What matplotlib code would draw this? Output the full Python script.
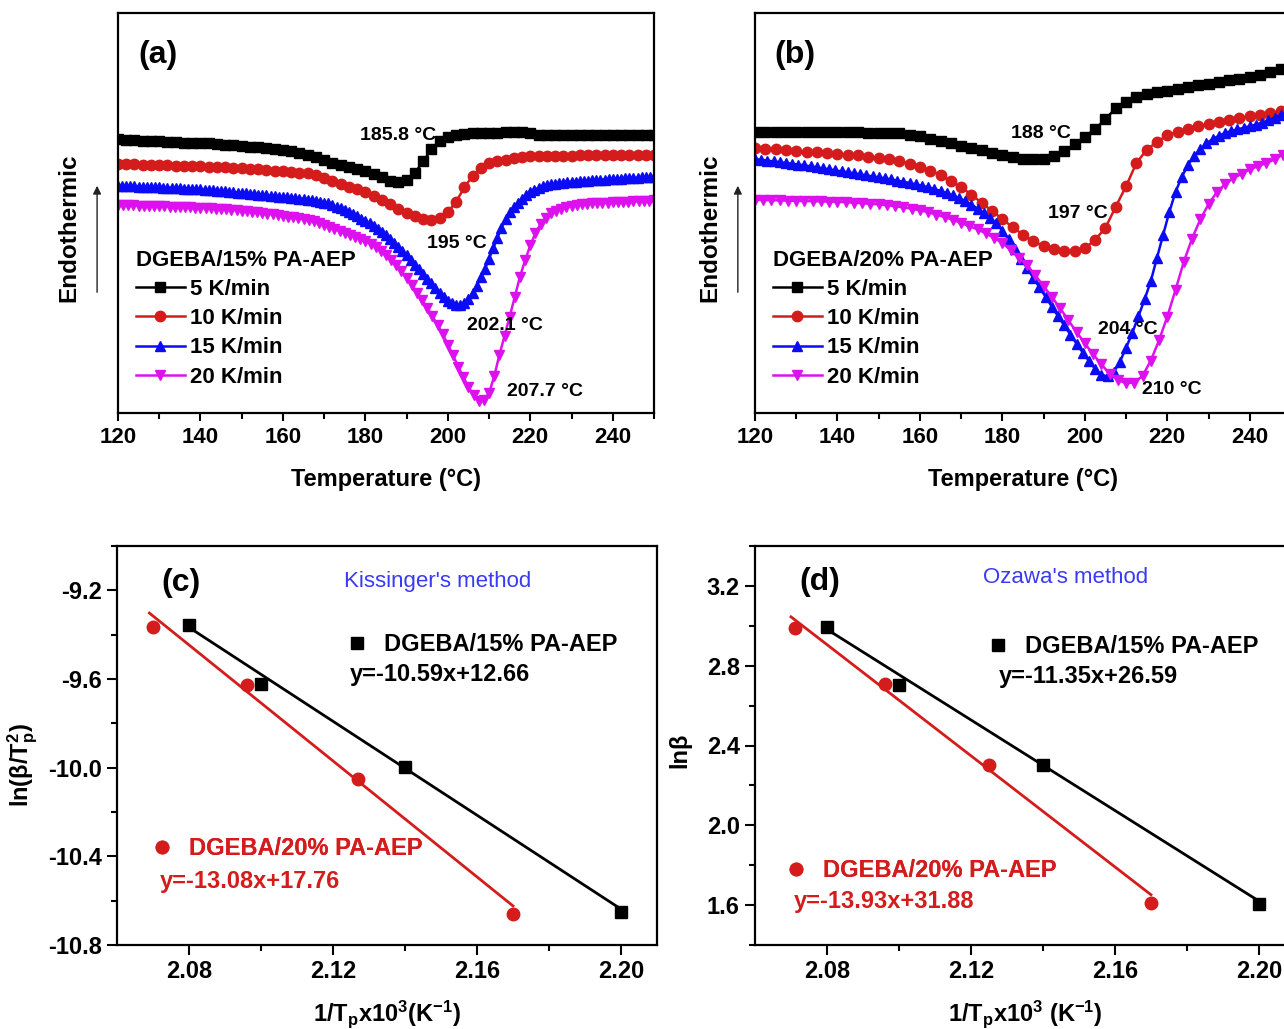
import numpy as np
import matplotlib
matplotlib.use("Agg")
import matplotlib.pyplot as plt
from matplotlib.ticker import MultipleLocator, FormatStrFormatter

plt.rcParams['font.family'] = ['Liberation Sans', 'DejaVu Sans']
plt.rcParams['font.weight'] = 'bold'
plt.rcParams['axes.labelweight'] = 'bold'
plt.rcParams['mathtext.fontset'] = 'custom'
plt.rcParams['mathtext.rm'] = 'Liberation Sans:bold'
plt.rcParams['mathtext.it'] = 'Liberation Sans:bold'
plt.rcParams['mathtext.bf'] = 'Liberation Sans:bold'
plt.rcParams['mathtext.default'] = 'rm'
plt.rcParams['axes.linewidth'] = 1.6

BLACK = '#000000'
RED = '#d41c1c'
BLUE = '#0b0bf5'
MAGENTA = '#dd11ee'
METHOD_BLUE = '#3a3af5'

# ---------------- DSC curves, panel (a): DGEBA/15% PA-AEP (heat flow, a.u.)
T_a_5 = np.arange(120, 251, 2)
dsc_a_5 = [68.4, 68.3, 68.2, 68.1, 68.0, 67.9, 67.8, 67.7, 67.6, 67.5,
           67.45, 67.4, 67.25, 67.1, 66.95, 66.8, 66.6, 66.4, 66.2, 66.0,
           65.8, 65.4, 65.0, 64.6, 64.0, 63.3, 62.6, 62.1, 61.6, 61.1,
           60.6, 59.8, 58.9, 57.9, 57.8, 58.3, 60.0, 62.9, 65.9, 67.9,
           69.1, 69.5, 69.75, 69.9, 70.0, 70.05, 70.1, 70.2, 70.3, 70.2,
           69.9, 69.6, 69.5, 69.5, 69.5, 69.5, 69.5, 69.5, 69.5, 69.5,
           69.5, 69.5, 69.5, 69.5, 69.5, 69.5]
T_a_10 = np.arange(120, 251, 2)
dsc_a_10 = [62.25, 62.2, 62.15, 62.1, 62.05, 62.0, 61.9, 61.85, 61.8, 61.7,
            61.65, 61.6, 61.5, 61.4, 61.3, 61.2, 61.05, 60.9, 60.75, 60.6,
            60.45, 60.3, 60.1, 59.95, 59.5, 58.7, 58.0, 57.3, 56.6, 55.9,
            55.2, 54.3, 53.3, 52.2, 51.1, 50.1, 49.2, 48.5, 48.3, 48.8,
            50.2, 52.8, 56.4, 59.3, 61.2, 62.4, 62.95, 63.3, 63.65, 63.95,
            64.2, 64.25, 64.3, 64.3, 64.35, 64.35, 64.4, 64.4, 64.4, 64.45,
            64.45, 64.45, 64.5, 64.5, 64.5, 64.5]
T_a_15 = np.arange(120, 251, 1)
dsc_a_15 = [56.8, 56.76, 56.72, 56.68, 56.64, 56.6, 56.56, 56.52, 56.48, 56.44,
            56.4, 56.35, 56.3, 56.25, 56.2, 56.15, 56.1, 56.05, 56.0, 55.95,
            55.9, 55.85, 55.8, 55.7, 55.6, 55.5, 55.4, 55.3, 55.2, 55.1,
            55.0, 54.9, 54.8, 54.7, 54.6, 54.5, 54.4, 54.3, 54.2, 54.1,
            54.0, 53.9, 53.8, 53.7, 53.6, 53.5, 53.35, 53.2, 53.0, 52.8,
            52.6, 52.4, 52.0, 51.6, 51.2, 50.8, 50.3, 49.8, 49.2, 48.6,
            48.0, 47.4, 46.8, 46.1, 45.3, 44.4, 43.5, 42.5, 41.5, 40.5,
            39.4, 38.3, 37.1, 36.0, 34.8, 33.6, 32.4, 31.2, 30.0, 29.0,
            28.1, 27.4, 27.0, 27.1, 27.6, 28.6, 29.9, 31.8, 33.9, 36.0,
            38.6, 41.2, 43.8, 46.3, 48.5, 50.2, 51.5, 52.6, 53.6, 54.5,
            55.2, 55.8, 56.3, 56.7, 56.95, 57.15, 57.3, 57.45, 57.6, 57.7,
            57.8, 57.87, 57.94, 58.0, 58.07, 58.14, 58.21, 58.28, 58.35, 58.42,
            58.49, 58.55, 58.6, 58.66, 58.72, 58.78, 58.84, 58.9, 58.96, 59.02,
            59.08]
T_a_20 = np.arange(120, 250.01, 1.25)
dsc_a_20 = [52.0, 51.97, 51.93, 51.9, 51.86, 51.82, 51.78, 51.74, 51.7, 51.65,
            51.6, 51.55, 51.5, 51.45, 51.4, 51.35, 51.3, 51.25, 51.2, 51.1,
            51.0, 50.9, 50.8, 50.7, 50.6, 50.45, 50.3, 50.15, 50.0, 49.85,
            49.7, 49.5, 49.3, 49.1, 48.9, 48.7, 48.5, 48.3, 48.0, 47.6,
            47.1, 46.6, 46.1, 45.6, 45.1, 44.6, 44.1, 43.6, 43.0, 42.3,
            41.5, 40.6, 39.5, 38.3, 37.0, 35.4, 33.8, 32.0, 30.1, 28.2,
            26.3, 24.2, 22.0, 19.7, 17.1, 14.4, 11.6, 9.0, 6.5, 4.4,
            3.0, 3.2, 5.0, 9.2, 14.5, 19.3, 24.1, 29.1, 34.1, 38.2,
            41.9, 45.0, 47.3, 48.8, 49.9, 50.6, 51.1, 51.5, 51.8, 52.0,
            52.2, 52.35, 52.45, 52.5, 52.55, 52.6, 52.7, 52.75, 52.8, 52.85,
            52.9, 52.95, 53.0, 53.1, 53.2]

# ---------------- DSC curves, panel (b): DGEBA/20% PA-AEP
T_b_5 = np.arange(120, 250.01, 2.5)
dsc_b_5 = [70.3, 70.3, 70.3, 70.3, 70.3, 70.3, 70.3, 70.3, 70.25, 70.2,
           70.15, 70.1, 70.05, 70.0, 69.9, 69.6, 69.2, 68.6, 68.0, 67.4,
           66.8, 66.25, 65.7, 65.1, 64.5, 63.9, 63.55, 63.45, 63.5, 64.2,
           65.5, 67.2, 69.1, 71.0, 73.5, 76.2, 77.8, 79.0, 79.7, 80.2,
           80.6, 81.1, 81.5, 81.9, 82.3, 82.8, 83.2, 83.6, 84.0, 84.6,
           85.3, 86.1, 86.8]
T_b_10 = np.arange(120, 250.01, 2.5)
dsc_b_10 = [66.25, 66.1, 65.9, 65.7, 65.5, 65.35, 65.2, 65.0, 64.8, 64.6,
            64.4, 64.1, 63.85, 63.5, 63.0, 62.3, 61.5, 60.6, 59.5, 58.0,
            56.4, 54.6, 52.5, 50.5, 48.5, 46.4, 44.6, 42.9, 41.7, 41.0,
            40.6, 40.4, 41.2, 43.3, 46.3, 51.6, 56.7, 62.5, 65.8, 67.8,
            69.4, 70.3, 70.9, 71.7, 72.2, 72.7, 73.2, 73.7, 74.2, 74.6,
            75.0, 75.4, 75.8]
T_b_15 = np.arange(120, 249.01, 1.5)
dsc_b_15 = [63.5, 63.3, 63.1, 62.9, 62.7, 62.5, 62.3, 62.1, 61.9, 61.65,
            61.4, 61.15, 60.9, 60.65, 60.4, 60.15, 59.9, 59.65, 59.4, 59.15,
            58.9, 58.65, 58.4, 58.1, 57.8, 57.5, 57.15, 56.8, 56.4, 56.0,
            55.5, 55.0, 54.4, 53.7, 53.0, 52.1, 51.1, 50.0, 48.8, 47.4,
            45.6, 43.4, 41.0, 38.6, 36.2, 33.8, 31.4, 29.0, 26.6, 24.2,
            21.9, 19.6, 17.3, 15.1, 13.0, 11.0, 9.5, 9.2, 10.2, 12.8,
            16.3, 20.0, 24.2, 28.4, 33.0, 38.8, 44.6, 50.3, 55.3, 59.0,
            62.0, 64.2, 66.0, 67.4, 68.5, 69.3, 70.0, 70.5, 70.9, 71.3,
            71.7, 72.1, 72.6, 73.2, 73.8, 74.5, 75.2]
T_b_20 = np.arange(120, 251, 2)
dsc_b_20 = [53.3, 53.25, 53.2, 53.15, 53.1, 53.05, 53.0, 52.95, 52.9, 52.85,
            52.8, 52.7, 52.6, 52.45, 52.3, 52.15, 51.95, 51.7, 51.4, 51.05,
            50.7, 50.2, 49.6, 49.0, 48.3, 47.5, 46.7, 45.9, 44.9, 43.8,
            42.5, 40.7, 38.8, 37.0, 34.4, 31.7, 29.0, 26.2, 23.2, 20.2,
            17.4, 14.7, 12.2, 9.8, 8.2, 7.5, 7.6, 9.3, 13.1, 18.2,
            24.1, 30.8, 37.8, 43.6, 48.4, 52.2, 55.2, 57.2, 58.7, 59.8,
            60.9, 61.7, 62.5, 63.4, 64.6, 65.4]

rate_labels = ['5 K/min', '10 K/min', '15 K/min', '20 K/min']

# peak labels (text, T, y)
peaks_a = [('185.8 °C', 187.9, 69.5), ('195 °C', 202.2, 42.5),
           ('202.1 °C', 213.8, 22.0), ('207.7 °C', 223.5, 5.3)]
peaks_b = [('188 °C', 189.4, 70.0), ('197 °C', 198.4, 50.0),
           ('204 °C', 210.3, 20.8), ('210 °C', 221.0, 5.8)]

# ---------------- kinetic plots
invT_15 = [2.08, 2.10, 2.14, 2.20]
invT_20_c = [2.070, 2.096, 2.127, 2.170]
invT_20_d = [2.071, 2.096, 2.125, 2.170]
kis_15 = [-9.358, -9.621, -9.997, -10.653]
kis_20 = [-9.365, -9.626, -10.051, -10.660]
oza_15 = [2.993, 2.703, 2.303, 1.607]
oza_20 = [2.990, 2.708, 2.303, 1.609]
kis_fit_15 = (-10.59, 12.66)
kis_fit_20 = (-13.08, 17.76)
oza_fit_15 = (-11.35, 26.59)
oza_fit_20 = (-13.93, 31.88)


def dsc_panel(ax, curves, title, peaks, tag, ylab_x, arrow_x):
    styles = [(BLACK, 's', 6.5), (RED, 'o', 7.5), (BLUE, '^', 6.5), (MAGENTA, 'v', 7.0)]
    for (T, v), (c, m, ms), lab in zip(curves, styles, rate_labels):
        ax.plot(T, v, color=c, marker=m, ms=ms, mec=c, lw=1.8, label=lab)
    ax.set_xlim(120, 250)
    ax.set_ylim(0, 100)
    ax.set_xticks(range(120, 241, 20))
    ax.xaxis.set_minor_locator(MultipleLocator(10))
    ax.set_yticks([])
    ax.tick_params(axis='x', which='major', direction='out', length=6, width=1.5,
                   labelsize=16, pad=4)
    ax.tick_params(axis='x', which='minor', direction='out', length=4, width=1.5)
    ax.set_xlabel('Temperature (°C)', fontsize=17)
    ax.xaxis.set_label_coords(0.5, -0.1375)
    ax.set_ylabel('Endothermic', fontsize=17.5)
    ax.yaxis.set_label_coords(ylab_x, 0.4625)
    ax.annotate('', xy=(arrow_x, 0.575), xytext=(arrow_x, 0.295), xycoords='axes fraction',
                arrowprops=dict(arrowstyle='-|>', color='#222222', lw=1.0, mutation_scale=12),
                annotation_clip=False)
    for txt, x, y in peaks:
        ax.text(x, y, txt, ha='center', va='center', fontsize=14)
    ax.text(0.074, 0.895, tag, transform=ax.transAxes, ha='center', va='center', fontsize=23)
    ax.legend(loc='upper left', bbox_to_anchor=(0.033, 0.408), title=title, alignment='left',
              frameon=False, fontsize=16, title_fontproperties={'weight': 'bold', 'size': 16},
              handlelength=2.2, handletextpad=0.25, labelspacing=0.37, borderpad=0,
              borderaxespad=0, numpoints=1)


def kinetic_panel(ax, x15, y15, fit15, x20, y20, fit20, ylim, yticks, ylabel, ylab_x, ylab_y,
                  xlabel, method, method_pos, tag, tag_pos, leg15, eq15, leg20, eq20):
    h15, = ax.plot(x15, y15, 's', color=BLACK, ms=8.5, zorder=3)
    h20, = ax.plot(x20, y20, 'o', color=RED, ms=9, zorder=3)
    xs = np.array([min(x15), max(x15)])
    ax.plot(xs, fit15[0] * xs + fit15[1], color=BLACK, lw=2.0, zorder=2)
    xs = np.array([min(x20) - 0.001, max(x20)])
    ax.plot(xs, fit20[0] * xs + fit20[1], color=RED, lw=2.0, zorder=2)

    ax.set_xlim(2.06, 2.21)
    ax.set_ylim(*ylim)
    ax.set_xticks([2.08, 2.12, 2.16, 2.20])
    ax.set_xticks([2.10, 2.14, 2.18], minor=True)
    ax.set_yticks(yticks)
    ax.yaxis.set_minor_locator(MultipleLocator(0.2))
    ax.xaxis.set_major_formatter(FormatStrFormatter('%.2f'))
    ax.yaxis.set_major_formatter(FormatStrFormatter('%.1f'))
    ax.tick_params(which='major', direction='out', length=7, width=1.5, labelsize=17, pad=4)
    ax.tick_params(which='minor', direction='out', length=4, width=1.5)

    ax.set_xlabel(xlabel, fontsize=17)
    ax.xaxis.set_label_coords(0.5, -0.133)
    ax.set_ylabel(ylabel, fontsize=17)
    ax.yaxis.set_label_coords(ylab_x, ylab_y)

    ax.text(*method_pos, method, transform=ax.transAxes, ha='center', va='center',
            fontsize=16, fontweight='normal', color=METHOD_BLUE)
    ax.text(*tag_pos, tag, transform=ax.transAxes, ha='center', va='center', fontsize=23)

    l1 = ax.legend([h15], ['DGEBA/15% PA-AEP'], loc='center left', bbox_to_anchor=leg15,
                   frameon=False, fontsize=17, handlelength=0.8, handletextpad=0.75,
                   borderpad=0, borderaxespad=0, numpoints=1)
    ax.add_artist(l1)
    ax.text(eq15[0], eq15[1], eq15[2], transform=ax.transAxes, ha='left', va='center',
            fontsize=17, color=BLACK)
    l2 = ax.legend([h20], ['DGEBA/20% PA-AEP'], loc='center left', bbox_to_anchor=leg20,
                   frameon=False, fontsize=17, handlelength=0.8, handletextpad=0.75,
                   borderpad=0, borderaxespad=0, numpoints=1, labelcolor=RED)
    ax.add_artist(l2)
    ax.text(eq20[0], eq20[1], eq20[2], transform=ax.transAxes, ha='left', va='center',
            fontsize=17, color=RED)


fig = plt.figure(figsize=(12.84, 10.29), dpi=100)
W, H = 1284.0, 1029.0
ax_a = fig.add_axes([118 / W, 1 - 413 / H, 536 / W, 400 / H])
ax_b = fig.add_axes([755 / W, 1 - 413 / H, 536 / W, 400 / H])
ax_c = fig.add_axes([117 / W, 1 - 945 / H, 540 / W, 399 / H])
ax_d = fig.add_axes([755 / W, 1 - 945 / H, 540 / W, 399 / H])

dsc_panel(ax_a, [(T_a_5, dsc_a_5), (T_a_10, dsc_a_10), (T_a_15, dsc_a_15), (T_a_20, dsc_a_20)],
          'DGEBA/15% PA-AEP', peaks_a, '(a)', -0.071, -0.039)
dsc_panel(ax_b, [(T_b_5, dsc_b_5), (T_b_10, dsc_b_10), (T_b_15, dsc_b_15), (T_b_20, dsc_b_20)],
          'DGEBA/20% PA-AEP', peaks_b, '(b)', -0.062, -0.032)

kinetic_panel(ax_c, invT_15, kis_15, kis_fit_15, invT_20_c, kis_20, kis_fit_20,
              (-10.8, -9.0), [-10.8, -10.4, -10.0, -9.6, -9.2],
              r'ln(β/T$_{p}^{2}$)', -0.143, 0.45,
              r'1/T$_{p}$x10$^{3}$(K$^{-1}$)',
              "Kissinger's method", (0.594, 0.910), '(c)', (0.119, 0.907),
              (0.427, 0.752), (0.431, 0.677, 'y=-10.59x+12.66'),
              (0.066, 0.241), (0.080, 0.158, 'y=-13.08x+17.76'))
kinetic_panel(ax_d, invT_15, oza_15, oza_fit_15, invT_20_d, oza_20, oza_fit_20,
              (1.4, 3.4), [1.6, 2.0, 2.4, 2.8, 3.2],
              'lnβ', -0.117, 0.489,
              r'1/T$_{p}$x10$^{3}$ (K$^{-1}$)',
              "Ozawa's method", (0.576, 0.922), '(d)', (0.120, 0.910),
              (0.432, 0.747), (0.452, 0.672, 'y=-11.35x+26.59'),
              (0.058, 0.186), (0.072, 0.108, 'y=-13.93x+31.88'))

fig.savefig('out.png', dpi=100)
